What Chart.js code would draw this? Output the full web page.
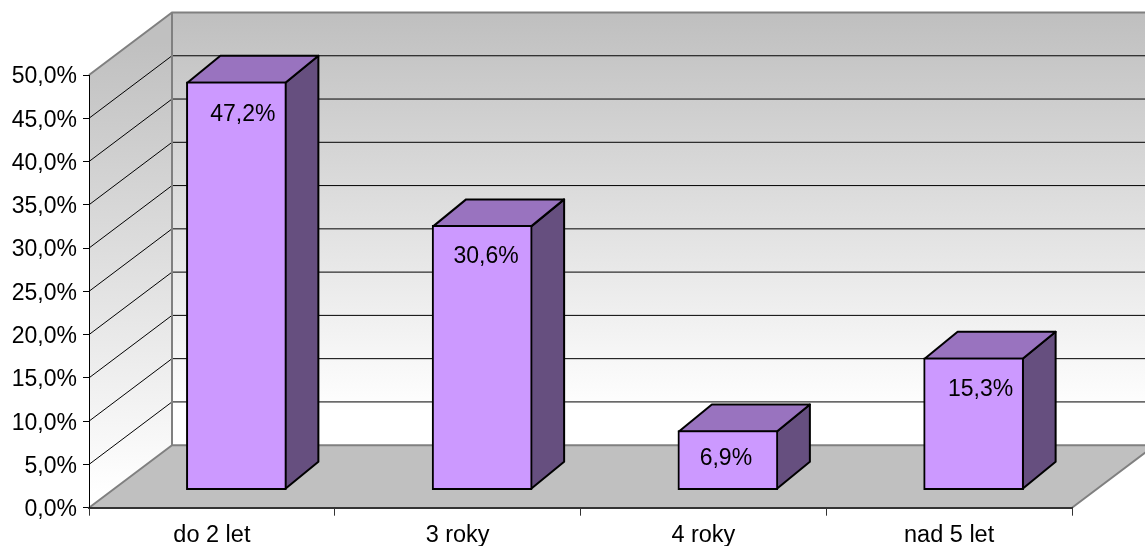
<!DOCTYPE html>
<html>
<head>
<meta charset="utf-8">
<title>do 2 let</title>
<script src="https://cdn.jsdelivr.net/npm/chart.js@4/dist/chart.umd.min.js"></script>
<style>
    html, body { margin: 0; padding: 0; background: #fff; overflow: hidden; }
    #wrap { position: relative; width: 1145px; height: 546px; }
</style>
</head>
<body>
<div id="wrap"><canvas id="chart" width="1145" height="546"></canvas></div>
<script>
    var categories = ['do 2 let', '3 roky', '4 roky', 'nad 5 let'];
    var shares = [47.2, 30.6, 6.9, 15.3];
    var yMax = 50;
    var yStep = 5;

    var FAMILY = '"Liberation Sans", Arial, sans-serif';
    var DEPTH = { x: 83, y: -62.5 };        // front plane to back wall
    var BAR_SHIFT = { x: 24.5, y: -17.5 };  // front face of the bars inside the box
    var BAR_DEPTH = { x: 33, y: -27 };      // side of each bar
    var LABEL_NUDGE = [6.5, 4, -2, 7];      // labels are not quite centred
    var LABEL_DROP = [32.5, 31.5, 28.5, 31.5];
    var TICK_LABEL_DROP = 2;

    function percent(v) {
        return v.toFixed(1).replace('.', ',') + '%';
    }

    function poly(ctx, pts, fill, stroke, lw) {
        ctx.beginPath();
        ctx.moveTo(pts[0][0], pts[0][1]);
        for (var i = 1; i < pts.length; i++) ctx.lineTo(pts[i][0], pts[i][1]);
        ctx.closePath();
        if (fill) { ctx.fillStyle = fill; ctx.fill(); }
        if (stroke) { ctx.strokeStyle = stroke; ctx.lineWidth = lw; ctx.stroke(); }
    }

    // ── Box: walls, floor and grid ───────────────────────────────────────────
    var boxPlugin = {
        id: 'box3d',
        beforeDraw: function(chart) {
            var ctx = chart.ctx, a = chart.chartArea, y = chart.scales.y;
            var l = a.left, r = a.right, t = a.top, b = a.bottom;
            var bl = l + DEPTH.x, br = r + DEPTH.x, bt = t + DEPTH.y, bb = b + DEPTH.y;

            // value labels sit a touch low against their ticks
            y.getLabelItems().forEach(function(item) {
                item.options.translation[1] += TICK_LABEL_DROP;
            });

            ctx.save();
            var g = ctx.createLinearGradient(0, bt, 0, bb);
            g.addColorStop(0, '#bfbfbf');
            g.addColorStop(0.92, '#ffffff');
            g.addColorStop(1, '#ffffff');
            poly(ctx, [[bl, bt], [br, bt], [br, bb], [bl, bb]], g);

            var gl = ctx.createLinearGradient(0, bt + 30, 0, b - 15);
            gl.addColorStop(0, '#c0c0c0');
            gl.addColorStop(1, '#ffffff');
            poly(ctx, [[l, t], [bl, bt], [bl, bb], [l, b]], gl);

            poly(ctx, [[l, b], [bl, bb], [br, bb], [r, b]], '#c0c0c0');

            // grid runs up the left wall and across the back
            ctx.strokeStyle = '#000';
            ctx.lineWidth = 1;
            for (var v = yStep; v < yMax; v += yStep) {
                var py = y.getPixelForValue(v);
                ctx.beginPath();
                ctx.moveTo(l, py);
                ctx.lineTo(bl, py + DEPTH.y);
                ctx.lineTo(br, py + DEPTH.y);
                ctx.stroke();
            }

            // box outline
            ctx.strokeStyle = '#808080';
            ctx.lineWidth = 2;
            ctx.beginPath();
            ctx.moveTo(l, t); ctx.lineTo(bl, bt); ctx.lineTo(br, bt);
            ctx.moveTo(bl, bt); ctx.lineTo(bl, bb); ctx.lineTo(br, bb);
            ctx.moveTo(l, b); ctx.lineTo(bl, bb);
            ctx.moveTo(r, b); ctx.lineTo(br, bb);
            ctx.stroke();
            ctx.restore();
        },
        // bars sit inside the box, so the whole dataset is moved back a little
        beforeDatasetDraw: function(chart, args) {
            var ctx = chart.ctx;
            ctx.save();
            ctx.translate(BAR_SHIFT.x, BAR_SHIFT.y);
            args.meta.data.forEach(function(bar) {
                var p = bar.getProps(['x', 'y', 'base', 'width'], true);
                var x0 = p.x - p.width / 2 + 1, x1 = p.x + p.width / 2 - 1;
                var top = p.y + 1, bot = p.base - 1;
                var dx = BAR_DEPTH.x, dy = BAR_DEPTH.y;
                ctx.lineJoin = 'round';
                poly(ctx, [[x1, top], [x1 + dx, top + dy], [x1 + dx, bot + dy], [x1, bot]], '#664f7f', '#000', 2);
                poly(ctx, [[x0, top], [x0 + dx, top + dy], [x1 + dx, top + dy], [x1, top]], '#9973bf', '#000', 2);
            });
        },
        afterDatasetDraw: function(chart) {
            chart.ctx.restore();
        },
        afterDatasetsDraw: function(chart) {
            var ctx = chart.ctx;
            ctx.save();
            ctx.font = '23px ' + FAMILY;
            ctx.fillStyle = '#000';
            ctx.textAlign = 'center';
            ctx.textBaseline = 'middle';
            chart.getDatasetMeta(0).data.forEach(function(bar, i) {
                ctx.fillText(percent(shares[i]), bar.x + BAR_SHIFT.x + LABEL_NUDGE[i], bar.y + BAR_SHIFT.y + LABEL_DROP[i]);
            });
            ctx.restore();
        }
    };

    new Chart(document.getElementById('chart'), {
        type: 'bar',
        plugins: [boxPlugin],
        data: {
            labels: categories,
            datasets: [{
                data: shares,
                backgroundColor: '#cc99ff',
                borderColor: '#000',
                borderWidth: 2,
                borderSkipped: false,
                barThickness: 100,
                clip: false
            }]
        },
        options: {
            responsive: false,
            animation: false,
            layout: { padding: { top: 75, right: 73, bottom: 0, left: 0 } },
            plugins: { legend: { display: false }, tooltip: { enabled: false } },
            scales: {
                x: {
                    afterFit: function(s) { s.height = 38.3; },
                    border: { color: '#333', width: 2 },
                    grid: { drawOnChartArea: false, tickLength: 8, tickColor: '#333', offset: true },
                    ticks: { color: '#000', font: { family: FAMILY, size: 23.5 }, padding: 6, maxRotation: 0 }
                },
                y: {
                    min: 0,
                    max: yMax,
                    afterFit: function(s) { s.width = 89; },
                    border: { color: '#000', width: 1 },
                    grid: { drawOnChartArea: false, tickLength: 6, tickColor: '#000' },
                    ticks: {
                        stepSize: yStep,
                        color: '#000',
                        padding: 6,
                        font: { family: FAMILY, size: 23 },
                        callback: function(v) { return percent(v); }
                    }
                }
            }
        }
    });
</script>
</body>
</html>
